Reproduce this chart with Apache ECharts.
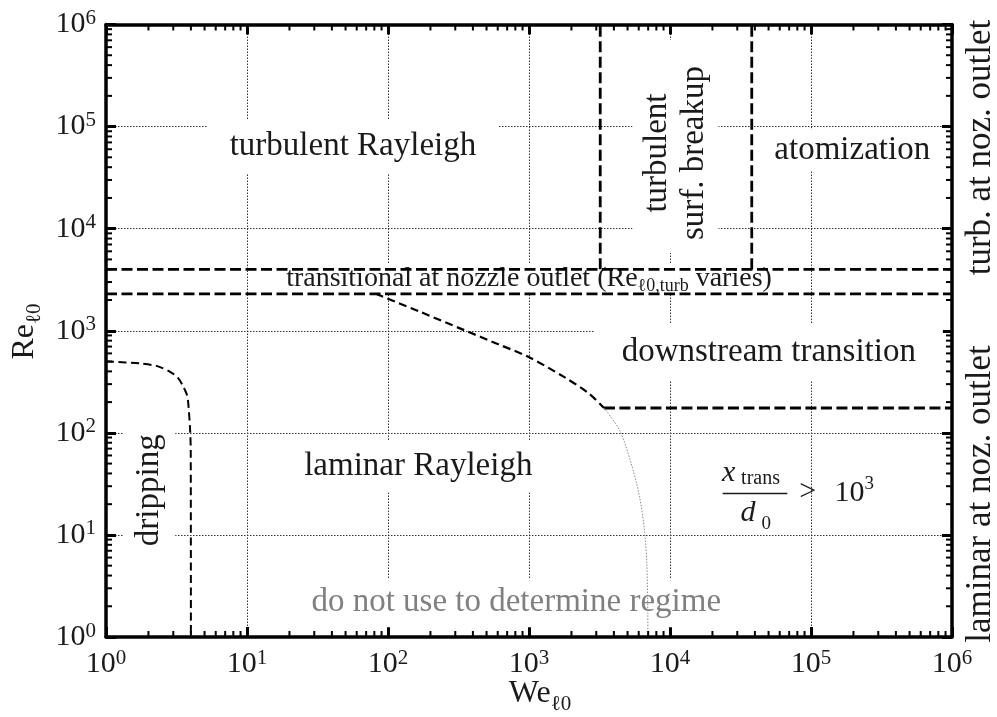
<!DOCTYPE html>
<html>
<head>
<meta charset="utf-8">
<script src="https://cdn.jsdelivr.net/npm/echarts@6.0.0/dist/echarts.min.js"></script>
<style>
html,body{margin:0;padding:0;background:#fff;}
#chart{width:997px;height:717px;}
</style>
</head>
<body>
<div id="chart"></div>
<script>
// ===== values (x: We_l0, y: Re_l0, both log10) =====
const tickExponents = [0, 1, 2, 3, 4, 5, 6];
const minorMantissas = [2, 3, 4, 5, 6, 7, 8, 9];

// regime boundaries as [We, Re] pairs
const boundaryTurbulentOutlet = [[1, 4000], [1e6, 4000]];
const boundaryTransitionalOutlet = [[1, 2300], [1e6, 2300]];
const boundarySurfBreakup = [[3200, 4000], [3200, 1e6]];
const boundaryAtomization = [[38000, 4000], [38000, 1e6]];
const boundaryDownstream = [[3400, 175], [1e6, 175]];
const curveLaminarTransition = [[82, 2300], [168, 1538], [347, 1014], [620, 728], [988, 555], [1770, 353], [2660, 243], [3400, 175]];
const curveDripping = [[1, 500], [1.75, 478], [2.31, 450], [2.85, 396], [3.25, 343], [3.54, 282], [3.77, 229], [3.85, 180], [3.95, 106], [3.99, 67], [4, 1]];
const curveDoNotUse = [[3400, 175], [4390, 106], [5310, 50], [6080, 23.6], [6590, 11.1], [6850, 5.2], [6960, 1.7], [6970, 1]];

// region annotations: text and anchor [We, Re]
const regionTexts = [
  'turbulent Rayleigh',
  'turbulent\nsurf. breakup',
  'atomization',
  'transitional at nozzle outlet (Re{sub|\u21130,turb} varies)',
  'downstream transition',
  'laminar Rayleigh',
  'dripping',
  'do not use to determine regime'
];
const regionAnchors = [
  [56.4, 63750],
  [10937, 63750],
  [196100, 58900],
  [1000, 3206],
  [50200, 617],
  [164, 47.1],
  [2.026, 27.4],
  [811.5, 2.164]
];
const criterionAnchor = [[40000, 25.4]];
const sideTexts = ['turb. at noz. outlet', 'laminar at noz. outlet'];

// ===== styling =====
const FF = '"Liberation Serif", "Times New Roman", serif';
const INK = '#1a1a1a';
function f(sz, style) { return (style ? style + ' ' : '') + sz + 'px ' + FF; }

const labelStyles = [
  { font: f(33), pad: [11, 22] },
  { font: f(33), pad: [6, 26, 6, 13], rot: 90, lh: 37 },
  { font: f(33), pad: [4, 10] },
  { font: f(28), pad: [0, 20], rich: { sub: { font: f(18), padding: [14, 0, 0, 0] } } },
  { font: f(33), pad: [12, 27] },
  { font: f(33), pad: [5.5, 20, 13.5, 20] },
  { font: f(33), pad: [4.9, 12, 14.1, 12], rot: 90 },
  { font: f(33), pad: [8, 15], fill: '#808080' }
];

const xMinor = [], yMinor = [];
tickExponents.slice(0, -1).forEach(function (e) {
  minorMantissas.forEach(function (m) { xMinor.push([m * Math.pow(10, e), 1]); yMinor.push([1, m * Math.pow(10, e)]); });
});

function tickLabel(v) {
  const e = tickExponents.find(function (k) { return Math.abs(Math.log10(v) - k) < 1e-6; });
  return e === undefined ? '' : '{b|10}{s|' + e + '}';
}

const tickRich = {
  b: { fontSize: 30, fontFamily: FF, color: INK },
  s: { fontSize: 21, fontFamily: FF, color: INK, padding: [0, 0, 12, 0] }
};

function logAxis(pos, labels) {
  return {
    type: 'log', logBase: 10, min: 1, max: 1e6, position: pos,
    axisLine: { show: true, onZero: false, lineStyle: { color: '#000', width: 3.5 } },
    axisTick: { show: true, inside: true, length: 10, lineStyle: { color: '#000', width: 3 } },
    axisLabel: labels ? { show: true, formatter: tickLabel, rich: tickRich, margin: pos === 'bottom' ? 11 : 10 } : { show: false },
    splitLine: labels ? { show: true, lineStyle: { color: '#333', width: 1, type: [1.5, 1.5] } } : { show: false },
    minorTick: { show: false }, minorSplitLine: { show: false }
  };
}

function lineSeries(data, width, dash, color, smooth) {
  return {
    type: 'line', data: data, xAxisIndex: 0, yAxisIndex: 0, showSymbol: false, symbol: 'none',
    smooth: smooth || false, silent: true, z: 5, animation: false,
    lineStyle: { color: color || '#000', width: width, type: dash }
  };
}

function minorTickSeries(data, isX) {
  return {
    type: 'custom', coordinateSystem: 'cartesian2d', xAxisIndex: 0, yAxisIndex: 0, z: 6, silent: true, animation: false,
    data: data,
    renderItem: function (params, api) {
      const cs = params.coordSys;
      const p = api.coord([api.value(0), api.value(1)]);
      const st = { stroke: '#000', lineWidth: 2 };
      if (isX) {
        const yb = cs.y + cs.height, yt = cs.y;
        return { type: 'group', children: [
          { type: 'line', shape: { x1: p[0], y1: yb, x2: p[0], y2: yb - 6 }, style: st },
          { type: 'line', shape: { x1: p[0], y1: yt, x2: p[0], y2: yt + 6 }, style: st }
        ] };
      }
      const xl = cs.x, xr = cs.x + cs.width;
      return { type: 'group', children: [
        { type: 'line', shape: { x1: xl, y1: p[1], x2: xl + 6, y2: p[1] }, style: st },
        { type: 'line', shape: { x1: xr, y1: p[1], x2: xr - 6, y2: p[1] }, style: st }
      ] };
    }
  };
}

function txt(text, font, extra) {
  const s = { text: text, font: font, fill: INK, align: 'center', verticalAlign: 'middle', textAlign: 'center', textVerticalAlign: 'middle', x: 0, y: 0 };
  for (const k in extra) s[k] = extra[k];
  return s;
}

const labelSeries = {
  type: 'custom', coordinateSystem: 'cartesian2d', xAxisIndex: 0, yAxisIndex: 0, z: 3, silent: true, animation: false,
  data: regionAnchors,
  renderItem: function (params, api) {
    const i = params.dataIndex, s = labelStyles[i];
    const p = api.coord([api.value(0), api.value(1)]);
    const extra = { backgroundColor: '#fff', padding: s.pad };
    if (s.fill) extra.fill = s.fill;
    if (s.lh) extra.lineHeight = s.lh;
    if (s.rich) extra.rich = s.rich;
    return { type: 'text', x: p[0], y: p[1], rotation: (s.rot || 0) * Math.PI / 180, style: txt(regionTexts[i], s.font, extra) };
  }
};

const criterionSeries = {
  type: 'custom', coordinateSystem: 'cartesian2d', xAxisIndex: 0, yAxisIndex: 0, z: 4, silent: true, animation: false,
  data: criterionAnchor,
  renderItem: function (params, api) {
    const p = api.coord([api.value(0), api.value(1)]);
    function piece(t, font, dx, dy, align) {
      return { type: 'text', x: p[0] + dx, y: p[1] + dy, style: txt(t, font, { align: align || 'left', textAlign: align || 'left' }) };
    }
    return { type: 'group', children: [
      piece('x', f(30, 'italic'), -33, -20),
      piece('trans', f(20), -13.8, -15.1),
      { type: 'line', shape: { x1: p[0] - 32.2, y1: p[1], x2: p[0] + 32.4, y2: p[1] }, style: { stroke: INK, lineWidth: 1.5 } },
      piece('d', f(30, 'italic'), -14.5, 19.5),
      piece('0', f(19), 6.5, 30.2),
      piece('>', f(30), 52.8, -1.5, 'center'),
      piece('10', f(30), 94.5, -0.2, 'center'),
      piece('3', f(19), 109.5, -9.8)
    ] };
  }
};

const chart = echarts.init(document.getElementById('chart'), null, { renderer: 'canvas' });
chart.setOption({
  animation: false,
  backgroundColor: '#fff',
  grid: { left: 106, right: 45, top: 24.5, bottom: 80, containLabel: false, outerBoundsMode: 'none' },
  xAxis: [logAxis('bottom', true), logAxis('top', false)],
  yAxis: [logAxis('left', true), logAxis('right', false)],
  graphic: [
    { type: 'text', x: 981, y: 147.5, rotation: Math.PI / 2, style: txt(sideTexts[0], f(35)) },
    { type: 'text', x: 981, y: 494, rotation: Math.PI / 2, style: txt(sideTexts[1], f(35)) },
    { type: 'text', x: 540, y: 694, style: txt('We{s|\u21130}', f(32), { rich: { s: { font: f(21), padding: [20, 0, 0, 0] } } }) },
    { type: 'text', x: 24.5, y: 331.5, rotation: Math.PI / 2, style: txt('Re{s|\u21130}', f(32), { rich: { s: { font: f(21), padding: [20, 0, 0, 0] } } }) }
  ],
  series: [
    labelSeries,
    criterionSeries,
    lineSeries(boundaryTurbulentOutlet, 2.8, [11, 4.5]),
    lineSeries(boundaryTransitionalOutlet, 2.8, [11, 4.5]),
    lineSeries(boundarySurfBreakup, 2.8, [11, 4.5]),
    lineSeries(boundaryAtomization, 2.8, [11, 4.5]),
    lineSeries(boundaryDownstream, 2.8, [11, 4.5]),
    lineSeries(curveLaminarTransition, 2.2, [8, 4.5], '#000', 0.3),
    lineSeries(curveDripping, 2, [8, 4.5], '#000', 0.3),
    lineSeries(curveDoNotUse, 1, [1.5, 1.5], '#8a8a8a', 0.3),
    minorTickSeries(xMinor, true),
    minorTickSeries(yMinor, false)
  ]
});
</script>
</body>
</html>
